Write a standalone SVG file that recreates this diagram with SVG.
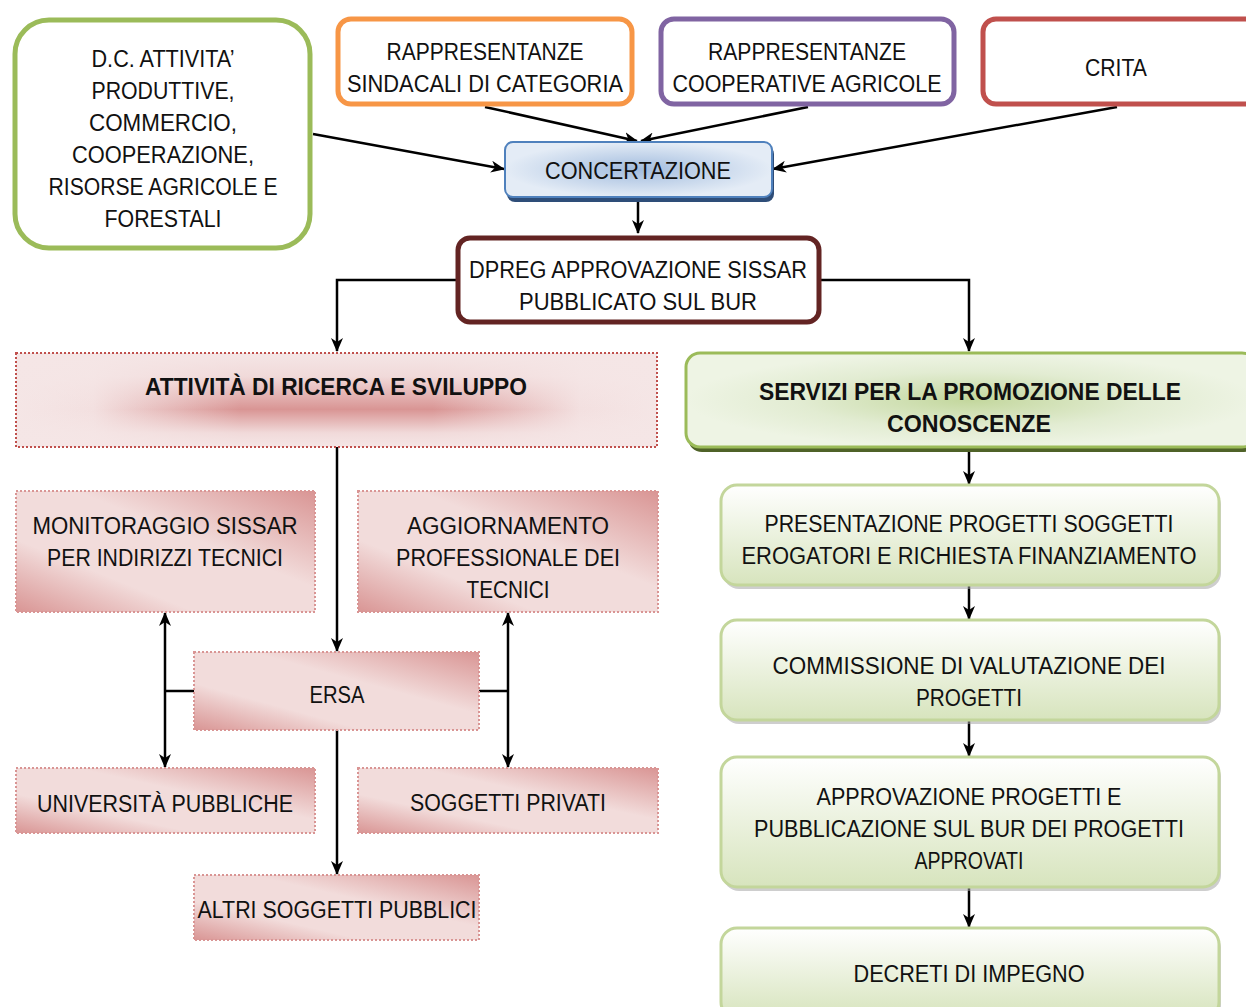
<svg xmlns="http://www.w3.org/2000/svg" width="1246" height="1007" viewBox="0 0 1246 1007">
<style>
text{font-family:"Liberation Sans",Arial,sans-serif;font-size:23.5px;fill:#111;text-anchor:middle}
.b{font-weight:bold}
.ln{stroke:#000;stroke-width:2.5;fill:none}
.pk{fill:url(#pkg);stroke:#D99594;stroke-width:2;stroke-dasharray:2 2}
.gr{fill:url(#grg);stroke:#C3D69B;stroke-width:3}
.sh{fill:#A6A6A6;opacity:0.55}
</style>
<defs>
<marker id="ah" markerWidth="14" markerHeight="12" refX="13" refY="6" orient="auto" markerUnits="userSpaceOnUse">
<path d="M0,0 L14,6 L0,12 L4,6 z" fill="#000"/>
</marker>
<linearGradient id="pkg" x1="0" y1="1" x2="1" y2="0">
<stop offset="0" stop-color="#D99594"/>
<stop offset="0.3" stop-color="#F2DCDB"/>
<stop offset="0.6" stop-color="#F2DCDB"/>
<stop offset="1" stop-color="#D99594"/>
</linearGradient>
<linearGradient id="pkh" x1="0" y1="0" x2="1" y2="0">
<stop offset="0" stop-color="#F5E6E6"/>
<stop offset="0.12" stop-color="#F3E0E0"/>
<stop offset="0.35" stop-color="#D99594"/>
<stop offset="0.65" stop-color="#D99594"/>
<stop offset="0.88" stop-color="#F3E0E0"/>
<stop offset="1" stop-color="#F5E6E6"/>
</linearGradient>
<linearGradient id="pkv" x1="0" y1="0" x2="0" y2="1">
<stop offset="0" stop-color="#F5E6E6" stop-opacity="1"/>
<stop offset="0.25" stop-color="#F5E6E6" stop-opacity="0.85"/>
<stop offset="0.6" stop-color="#F5E6E6" stop-opacity="0"/>
<stop offset="0.85" stop-color="#F5E6E6" stop-opacity="0.85"/>
<stop offset="1" stop-color="#F5E6E6" stop-opacity="1"/>
</linearGradient>
<radialGradient id="blr" cx="0.5" cy="0.5" r="0.5">
<stop offset="0" stop-color="#A2BCDE"/>
<stop offset="1" stop-color="#E4ECF6"/>
</radialGradient>
<radialGradient id="gnr" cx="0.5" cy="0.5" r="0.5">
<stop offset="0" stop-color="#C3D79D"/>
<stop offset="0.6" stop-color="#E2ECD2"/>
<stop offset="1" stop-color="#EEF4E4"/>
</radialGradient>
<linearGradient id="grg" x1="0" y1="0" x2="0" y2="1">
<stop offset="0" stop-color="#FFFFFF"/>
<stop offset="1" stop-color="#D7E4BD"/>
</linearGradient>
</defs>

<g id="connectors">
<line class="ln" x1="313" y1="134" x2="504" y2="169" marker-end="url(#ah)"/>
<line class="ln" x1="485" y1="107" x2="637" y2="141" marker-end="url(#ah)"/>
<line class="ln" x1="808" y1="107" x2="641" y2="141" marker-end="url(#ah)"/>
<line class="ln" x1="1117" y1="107" x2="773" y2="169" marker-end="url(#ah)"/>
<line class="ln" x1="638" y1="198" x2="638" y2="233" marker-end="url(#ah)"/>
<polyline class="ln" points="457,280 337,280 337,351" marker-end="url(#ah)"/>
<polyline class="ln" points="820,280 969,280 969,351" marker-end="url(#ah)"/>
<line class="ln" x1="337" y1="447" x2="337" y2="651" marker-end="url(#ah)"/>
<line class="ln" x1="337" y1="730" x2="337" y2="874" marker-end="url(#ah)"/>
<line class="ln" x1="194" y1="691" x2="165" y2="691"/>
<line class="ln" x1="165" y1="691" x2="165" y2="613" marker-end="url(#ah)"/>
<line class="ln" x1="165" y1="691" x2="165" y2="767" marker-end="url(#ah)"/>
<line class="ln" x1="479" y1="691" x2="508" y2="691"/>
<line class="ln" x1="508" y1="691" x2="508" y2="613" marker-end="url(#ah)"/>
<line class="ln" x1="508" y1="691" x2="508" y2="767" marker-end="url(#ah)"/>
<line class="ln" x1="969" y1="450" x2="969" y2="484" marker-end="url(#ah)"/>
<line class="ln" x1="969" y1="585" x2="969" y2="619" marker-end="url(#ah)"/>
<line class="ln" x1="969" y1="720" x2="969" y2="756" marker-end="url(#ah)"/>
<line class="ln" x1="969" y1="887" x2="969" y2="927" marker-end="url(#ah)"/>
</g>

<g id="dc">
<rect x="15" y="20" width="295" height="228" rx="34" fill="#fff" stroke="#9BBB59" stroke-width="5"/>
<text x="163" y="67" textLength="143" lengthAdjust="spacingAndGlyphs">D.C. ATTIVITA’</text>
<text x="163" y="99" textLength="143" lengthAdjust="spacingAndGlyphs">PRODUTTIVE,</text>
<text x="163" y="131" textLength="148" lengthAdjust="spacingAndGlyphs">COMMERCIO,</text>
<text x="163" y="163" textLength="182" lengthAdjust="spacingAndGlyphs">COOPERAZIONE,</text>
<text x="163" y="195" textLength="229" lengthAdjust="spacingAndGlyphs">RISORSE AGRICOLE E</text>
<text x="163" y="227" textLength="117" lengthAdjust="spacingAndGlyphs">FORESTALI</text>
</g>

<g id="rapp-sindacali">
<rect x="338" y="19" width="294" height="85" rx="13" fill="#fff" stroke="#F79646" stroke-width="5"/>
<text x="485" y="60" textLength="197" lengthAdjust="spacingAndGlyphs">RAPPRESENTANZE</text>
<text x="485" y="92" textLength="276" lengthAdjust="spacingAndGlyphs">SINDACALI DI CATEGORIA</text>
</g>

<g id="rapp-cooperative">
<rect x="661" y="19" width="293" height="85" rx="13" fill="#fff" stroke="#8064A2" stroke-width="5"/>
<text x="807" y="60" textLength="198" lengthAdjust="spacingAndGlyphs">RAPPRESENTANZE</text>
<text x="807" y="92" textLength="269" lengthAdjust="spacingAndGlyphs">COOPERATIVE AGRICOLE</text>
</g>

<g id="crita">
<rect x="983" y="19" width="275" height="85" rx="13" fill="#fff" stroke="#C0504D" stroke-width="5"/>
<text x="1116" y="76" textLength="62" lengthAdjust="spacingAndGlyphs">CRITA</text>
</g>

<g id="concertazione">
<rect x="507" y="146" width="267" height="56" rx="8" fill="#2E4D78"/>
<rect x="505" y="142" width="267" height="55" rx="8" fill="url(#blr)" stroke="#4F81BD" stroke-width="2"/>
<text x="638" y="179" textLength="186" lengthAdjust="spacingAndGlyphs">CONCERTAZIONE</text>
</g>

<g id="dpreg">
<rect x="458" y="238" width="361" height="84" rx="12" fill="#fff" stroke="#632423" stroke-width="5"/>
<text x="638" y="278" textLength="338" lengthAdjust="spacingAndGlyphs">DPREG APPROVAZIONE SISSAR</text>
<text x="638" y="310" textLength="238" lengthAdjust="spacingAndGlyphs">PUBBLICATO SUL BUR</text>
</g>

<g id="attivita">
<rect x="16" y="353" width="641" height="94" fill="url(#pkh)"/>
<rect x="16" y="353" width="641" height="94" fill="url(#pkv)" stroke="#C0504D" stroke-width="2" stroke-dasharray="2 2"/>
<text class="b" x="336" y="395" textLength="382" lengthAdjust="spacingAndGlyphs">ATTIVITÀ DI RICERCA E SVILUPPO</text>
</g>

<g id="servizi">
<rect x="688" y="357" width="570" height="95" rx="14" fill="#4F6228"/>
<rect x="686" y="353" width="570" height="94" rx="14" fill="url(#gnr)" stroke="#9BBB59" stroke-width="3"/>
<text class="b" x="970" y="400" textLength="422" lengthAdjust="spacingAndGlyphs">SERVIZI PER LA PROMOZIONE DELLE</text>
<text class="b" x="969" y="432" textLength="164" lengthAdjust="spacingAndGlyphs">CONOSCENZE</text>
</g>

<g id="monitoraggio">
<rect class="pk" x="16" y="491" width="299" height="121"/>
<text x="165" y="534" textLength="265" lengthAdjust="spacingAndGlyphs">MONITORAGGIO SISSAR</text>
<text x="165" y="566" textLength="236" lengthAdjust="spacingAndGlyphs">PER INDIRIZZI TECNICI</text>
</g>

<g id="aggiornamento">
<rect class="pk" x="358" y="491" width="300" height="121"/>
<text x="508" y="534" textLength="202" lengthAdjust="spacingAndGlyphs">AGGIORNAMENTO</text>
<text x="508" y="566" textLength="224" lengthAdjust="spacingAndGlyphs">PROFESSIONALE DEI</text>
<text x="508" y="598" textLength="83" lengthAdjust="spacingAndGlyphs">TECNICI</text>
</g>

<g id="ersa">
<rect class="pk" x="194" y="652" width="285" height="78"/>
<text x="337" y="703" textLength="55" lengthAdjust="spacingAndGlyphs">ERSA</text>
</g>

<g id="universita">
<rect class="pk" x="16" y="768" width="299" height="65"/>
<text x="165" y="812" textLength="256" lengthAdjust="spacingAndGlyphs">UNIVERSITÀ PUBBLICHE</text>
</g>

<g id="privati">
<rect class="pk" x="358" y="768" width="300" height="65"/>
<text x="508" y="811" textLength="196" lengthAdjust="spacingAndGlyphs">SOGGETTI PRIVATI</text>
</g>

<g id="altri">
<rect class="pk" x="194" y="875" width="285" height="65"/>
<text x="337" y="918" textLength="279" lengthAdjust="spacingAndGlyphs">ALTRI SOGGETTI PUBBLICI</text>
</g>

<g id="presentazione">
<rect class="sh" x="723" y="489" width="498" height="100" rx="16"/>
<rect class="gr" x="721" y="485" width="498" height="100" rx="16"/>
<text x="969" y="532" textLength="409" lengthAdjust="spacingAndGlyphs">PRESENTAZIONE PROGETTI SOGGETTI</text>
<text x="969" y="564" textLength="455" lengthAdjust="spacingAndGlyphs">EROGATORI E RICHIESTA FINANZIAMENTO</text>
</g>

<g id="commissione">
<rect class="sh" x="723" y="624" width="498" height="100" rx="16"/>
<rect class="gr" x="721" y="620" width="498" height="100" rx="16"/>
<text x="969" y="674" textLength="393" lengthAdjust="spacingAndGlyphs">COMMISSIONE DI VALUTAZIONE DEI</text>
<text x="969" y="706" textLength="106" lengthAdjust="spacingAndGlyphs">PROGETTI</text>
</g>

<g id="approvazione">
<rect class="sh" x="723" y="761" width="498" height="130" rx="16"/>
<rect class="gr" x="721" y="757" width="498" height="130" rx="16"/>
<text x="969" y="805" textLength="305" lengthAdjust="spacingAndGlyphs">APPROVAZIONE PROGETTI E</text>
<text x="969" y="837" textLength="430" lengthAdjust="spacingAndGlyphs">PUBBLICAZIONE SUL BUR DEI PROGETTI</text>
<text x="969" y="869" textLength="109" lengthAdjust="spacingAndGlyphs">APPROVATI</text>
</g>

<g id="decreti">
<rect class="sh" x="723" y="932" width="498" height="90" rx="16"/>
<rect class="gr" x="721" y="928" width="498" height="90" rx="16"/>
<text x="969" y="982" textLength="231" lengthAdjust="spacingAndGlyphs">DECRETI DI IMPEGNO</text>
</g>
</svg>
